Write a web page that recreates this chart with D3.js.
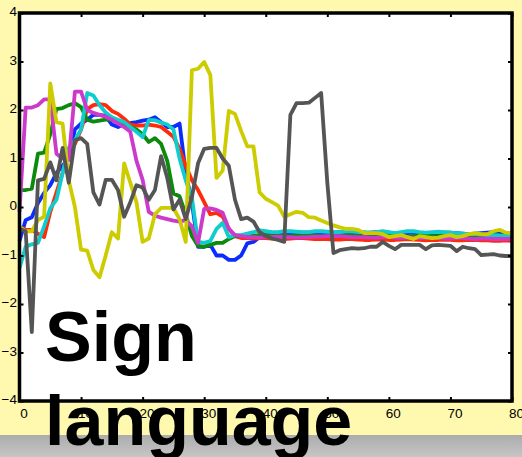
<!DOCTYPE html>
<html>
<head>
<meta charset="utf-8">
<script src="https://cdn.jsdelivr.net/npm/d3@7"></script>
<style>
  body { margin: 0; background: #fff9b0; }
  svg { display: block; }
</style>
</head>
<body>
<script>
// sample values per series, one value per step 0..80
const blue = [
  -0.70, -0.27, -0.21, 0.08, 0.29, 0.45, 0.70, 0.85, 1.00, 1.60,
  1.72, 1.80, 1.90, 1.90, 1.88, 1.70, 1.65, 1.72, 1.73, 1.75,
  1.78, 1.80, 1.85, 1.75, 1.65, 1.65, 1.72, 0.70, 0.10, -0.82,
  -0.82, -0.78, -1.00, -1.00, -1.09, -1.09, -1.00, -0.75, -0.72, -0.62,
  -0.58, -0.56, -0.55, -0.55, -0.54, -0.54, -0.53, -0.53, -0.54, -0.55,
  -0.54, -0.53, -0.52, -0.52, -0.53, -0.54, -0.54, -0.53, -0.52, -0.53,
  -0.54, -0.55, -0.55, -0.54, -0.53, -0.54, -0.55, -0.55, -0.54, -0.53,
  -0.53, -0.54, -0.55, -0.56, -0.55, -0.54, -0.53, -0.52, -0.53, -0.54,
  -0.55
]
const red = [
  -0.41, -0.47, -0.47, -0.55, -0.62, -0.10, 0.30, 0.70, 1.20, 1.30,
  1.60, 2.02, 2.10, 2.12, 2.10, 1.98, 1.92, 1.82, 1.70, 1.68,
  1.68, 1.70, 1.68, 1.65, 1.55, 1.45, 1.20, 0.85, 0.55, 0.35,
  0.10, -0.15, -0.12, -0.20, -0.45, -0.60, -0.64, -0.64, -0.65, -0.64,
  -0.64, -0.65, -0.66, -0.66, -0.65, -0.64, -0.64, -0.65, -0.66, -0.66,
  -0.66, -0.67, -0.67, -0.66, -0.66, -0.67, -0.68, -0.68, -0.67, -0.67,
  -0.68, -0.68, -0.67, -0.66, -0.67, -0.68, -0.69, -0.68, -0.68, -0.67,
  -0.68, -0.69, -0.69, -0.68, -0.68, -0.69, -0.69, -0.70, -0.70, -0.69,
  -0.70
]
const green = [
  0.35, 0.35, 0.38, 1.10, 1.12, 1.50, 2.02, 2.04, 2.10, 2.14,
  2.06, 1.80, 1.76, 1.78, 1.80, 1.80, 1.76, 1.72, 1.65, 1.60,
  1.50, 1.34, 1.42, 1.30, 0.95, 0.28, 0.22, -0.15, -0.60, -0.80,
  -0.82, -0.78, -0.74, -0.74, -0.66, -0.60, -0.60, -0.60, -0.59, -0.58,
  -0.58, -0.58, -0.59, -0.60, -0.60, -0.59, -0.58, -0.58, -0.59, -0.60,
  -0.60, -0.60, -0.59, -0.58, -0.58, -0.59, -0.60, -0.60, -0.59, -0.58,
  -0.58, -0.59, -0.60, -0.61, -0.60, -0.59, -0.59, -0.60, -0.60, -0.59,
  -0.58, -0.58, -0.59, -0.60, -0.61, -0.60, -0.59, -0.58, -0.58, -0.59,
  -0.60
]
const cyan = [
  -1.26, -0.82, -0.77, -0.74, -0.40, -0.03, 0.15, 0.70, 1.22, 1.38,
  1.60, 2.35, 2.30, 2.10, 1.95, 1.85, 1.80, 1.75, 1.65, 1.55,
  1.44, 1.79, 1.79, 1.74, 1.70, 1.60, 1.00, 0.55, 0.20, -0.72,
  -0.74, -0.70, -0.45, -0.33, -0.62, -0.58, -0.58, -0.55, -0.52, -0.48,
  -0.50, -0.52, -0.52, -0.50, -0.50, -0.51, -0.52, -0.52, -0.50, -0.50,
  -0.51, -0.52, -0.52, -0.50, -0.50, -0.52, -0.52, -0.53, -0.52, -0.50,
  -0.52, -0.54, -0.52, -0.50, -0.50, -0.52, -0.53, -0.52, -0.51, -0.52,
  -0.53, -0.54, -0.55, -0.56, -0.56, -0.57, -0.58, -0.58, -0.59, -0.60,
  -0.60
]
const magenta = [
  -0.10, 2.05, 2.05, 2.10, 2.22, 2.22, 1.10, 1.00, 0.97, 2.38,
  2.38, 2.00, 1.94, 1.90, 1.86, 1.80, 1.72, 1.65, 1.55, 0.95,
  0.56, -0.10, -0.18, -0.22, -0.25, -0.28, -0.30, -0.27, -0.40, -0.74,
  -0.04, -0.03, -0.06, -0.12, -0.45, -0.58, -0.60, -0.62, -0.62, -0.63,
  -0.62, -0.62, -0.61, -0.62, -0.62, -0.63, -0.62, -0.62, -0.61, -0.61,
  -0.60, -0.60, -0.60, -0.61, -0.62, -0.62, -0.62, -0.63, -0.63, -0.62,
  -0.62, -0.63, -0.64, -0.63, -0.63, -0.64, -0.64, -0.63, -0.64, -0.65,
  -0.65, -0.64, -0.64, -0.65, -0.66, -0.65, -0.65, -0.66, -0.66, -0.66,
  -0.66
]
const yellow = [
  -0.41, -0.50, -0.50, -0.27, -0.20, 2.55, 1.75, 1.72, 0.55, 0.00,
  -0.88, -0.90, -1.30, -1.45, -1.00, -0.52, -0.65, 0.90, 0.50, 0.10,
  -0.72, -0.65, -0.15, -0.02, -0.02, -0.02, -0.25, -0.72, 2.82, 2.85,
  2.99, 2.72, 0.60, 0.75, 1.98, 1.92, 1.57, 1.25, 1.25, 0.30,
  0.17, 0.10, 0.03, -0.20, -0.15, -0.10, -0.12, -0.21, -0.22, -0.28,
  -0.33, -0.38, -0.42, -0.45, -0.45, -0.47, -0.54, -0.54, -0.54, -0.56,
  -0.62, -0.60, -0.58, -0.62, -0.66, -0.60, -0.62, -0.64, -0.63, -0.60,
  -0.58, -0.62, -0.60, -0.56, -0.54, -0.56, -0.56, -0.50, -0.47, -0.53,
  -0.54
]
const grey = [
  -0.45, -0.50, -2.58, 0.55, 0.58, 0.92, 0.55, 1.22, 0.50, 1.38,
  1.42, 1.30, 0.30, 0.05, 0.56, 0.56, 0.35, -0.20, 0.10, 0.45,
  0.40, 0.15, 0.35, 1.05, 0.60, -0.05, 0.15, -0.25, 0.20, 0.90,
  1.20, 1.22, 1.22, 1.00, 0.85, 0.15, -0.25, -0.22, -0.30, -0.52,
  -0.60, -0.65, -0.68, -0.72, 1.90, 2.14, 2.14, 2.15, 2.25, 2.35,
  0.50, -0.95, -0.89, -0.87, -0.85, -0.86, -0.85, -0.82, -0.82, -0.72,
  -0.80, -0.87, -0.78, -0.78, -0.78, -0.78, -0.87, -0.79, -0.78, -0.79,
  -0.80, -0.91, -0.82, -0.85, -0.87, -0.99, -0.98, -0.97, -1.00, -1.01,
  -1.01
]

const xTicks = [0, 10, 20, 30, 40, 50, 60, 70, 80]
const yTicks = [-4, -3, -2, -1, 0, 1, 2, 3, 4]
const titleLines = ['Sign', 'language']

let width = 522
let height = 457

let svg = d3
  .select('body')
  .append('svg')
  .attr('width', width)
  .attr('height', height)

let x = d3.scaleLinear().domain([0, 80]).range([19.5, 512])
let y = d3.scaleLinear().domain([-4, 4]).range([401, 13])

// yellow page + grey strip at the bottom
svg.append('rect')
  .attr('width', width)
  .attr('height', height)
  .attr('fill', '#fff9b0')

let grad = svg.append('defs').append('linearGradient')
  .attr('id', 'strip')
  .attr('x1', 0).attr('x2', 0).attr('y1', 0).attr('y2', 1)
grad.append('stop').attr('offset', 0).attr('stop-color', '#acacac')
grad.append('stop').attr('offset', 1).attr('stop-color', '#c6c6c6')

svg.append('rect')
  .attr('y', 435)
  .attr('width', width)
  .attr('height', height - 435)
  .attr('fill', 'url(#strip)')

// white plot area
svg.append('rect')
  .attr('x', x(0))
  .attr('y', y(4))
  .attr('width', x(80) - x(0))
  .attr('height', y(-4) - y(4))
  .attr('fill', 'white')

let series = [
  { values: blue, color: '#0a2cff' },
  { values: red, color: '#ff2a0a' },
  { values: green, color: '#0b8a0b' },
  { values: cyan, color: '#10cccc' },
  { values: magenta, color: '#cc3acc' },
  { values: yellow, color: '#cccc00' },
  { values: grey, color: '#555555' }
]

let line = d3.line()
  .x((d, i) => x(i))
  .y(d => y(d))

svg.selectAll('.series')
  .data(series)
  .enter()
  .append('path')
  .attr('class', 'series')
  .attr('d', d => line(d.values))
  .attr('fill', 'none')
  .attr('stroke', d => d.color)
  .attr('stroke-width', 3.8)
  .attr('stroke-linejoin', 'round')

// axes with inward ticks on all four sides
function styleAxis(g) {
  g.select('.domain').remove()
  g.selectAll('.tick line').attr('stroke', 'black').attr('stroke-width', 2)
  g.selectAll('.tick text')
    .attr('fill', 'black')
    .style('font-family', '"Liberation Sans", Arial, sans-serif')
    .style('font-size', '13.5px')
}

svg.append('g')
  .attr('transform', `translate(0,${y(-4)})`)
  .call(d3.axisBottom(x).tickValues(xTicks).tickSizeInner(-4).tickSizeOuter(0).tickPadding(7))
  .call(styleAxis)
  .selectAll('.tick text').attr('dx', 4)

svg.append('g')
  .attr('transform', `translate(0,${y(4)})`)
  .call(d3.axisTop(x).tickValues(xTicks).tickSizeInner(-4).tickSizeOuter(0).tickFormat(''))
  .call(styleAxis)

svg.append('g')
  .attr('transform', `translate(${x(0)},0)`)
  .call(d3.axisLeft(y).tickValues(yTicks).tickSizeInner(-4).tickSizeOuter(0).tickPadding(2.5))
  .call(styleAxis)
  .selectAll('.tick text').attr('dy', '0.22em')

svg.append('g')
  .attr('transform', `translate(${x(80)},0)`)
  .call(d3.axisRight(y).tickValues(yTicks).tickSizeInner(-4).tickSizeOuter(0).tickFormat(''))
  .call(styleAxis)

// black frame
svg.append('rect')
  .attr('x', x(0))
  .attr('y', y(4))
  .attr('width', x(80) - x(0))
  .attr('height', y(-4) - y(4))
  .attr('fill', 'none')
  .attr('stroke', 'black')
  .attr('stroke-width', 3.5)

// big title over everything
svg.selectAll('.title')
  .data(titleLines)
  .enter()
  .append('text')
  .attr('class', 'title')
  .text(d => d)
  .attr('x', 45)
  .attr('y', (d, i) => 361 + i * 84)
  .attr('fill', 'black')
  .style('font-family', '"Liberation Sans", Arial, Helvetica, sans-serif')
  .style('font-weight', 'bold')
  .style('font-size', '70px')
</script>
</body>
</html>
